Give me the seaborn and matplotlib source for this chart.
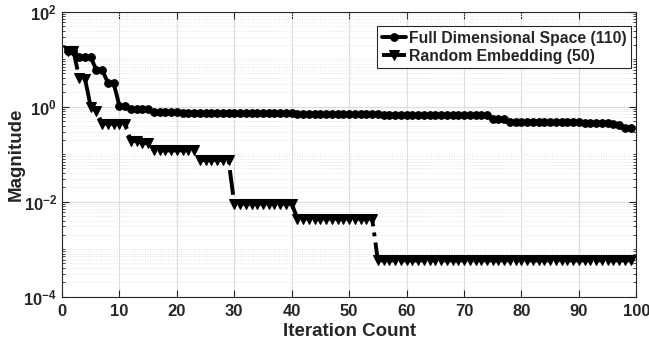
import numpy as np
import pandas as pd
import matplotlib
matplotlib.use("Agg")
import matplotlib.pyplot as plt
import seaborn as sns
from matplotlib.ticker import FixedLocator, NullFormatter

# iterations 1..99
iters = list(range(1, 100))

# Full Dimensional Space (110)
full_mag = [15, 15, 11, 11, 11, 5.9, 5.9, 3.2, 3.1, 1.05,
            1.02, 0.9, 0.9, 0.9, 0.9, 0.76, 0.76, 0.76, 0.76, 0.76,
            0.75, 0.75, 0.75, 0.75, 0.75, 0.74, 0.74, 0.74, 0.74, 0.74,
            0.73, 0.73, 0.73, 0.73, 0.73, 0.72, 0.72, 0.72, 0.72, 0.72,
            0.71, 0.71, 0.71, 0.71, 0.71, 0.70, 0.70, 0.70, 0.70, 0.70,
            0.69, 0.69, 0.69, 0.69, 0.69, 0.68, 0.68, 0.68, 0.68, 0.68,
            0.67, 0.67, 0.67, 0.67, 0.67, 0.67, 0.66, 0.66, 0.66, 0.66,
            0.66, 0.66, 0.66, 0.66, 0.55, 0.55, 0.55, 0.48, 0.48, 0.48,
            0.48, 0.48, 0.48, 0.48, 0.48, 0.47, 0.47, 0.47, 0.47, 0.47,
            0.46, 0.46, 0.46, 0.46, 0.46, 0.43, 0.42, 0.36, 0.36]

# Random Embedding (50)
rand_mag = [15, 15, 4.0, 3.9, 1.0, 0.8, 0.44, 0.44, 0.44, 0.44,
            0.44, 0.19, 0.19, 0.17, 0.17, 0.12, 0.12, 0.12, 0.12, 0.12,
            0.12, 0.12, 0.12, 0.075, 0.075, 0.075, 0.075, 0.075, 0.075, 0.009,
            0.009, 0.009, 0.009, 0.009, 0.009, 0.009, 0.009, 0.009, 0.009, 0.009,
            0.0044, 0.0044, 0.0044, 0.0044, 0.0044, 0.0044, 0.0044, 0.0044, 0.0044, 0.0044,
            0.0044, 0.0044, 0.0044, 0.0044, 0.00058, 0.00058, 0.00058, 0.00058, 0.00058, 0.00058,
            0.00058, 0.00058, 0.00058, 0.00058, 0.00058, 0.00058, 0.00058, 0.00058, 0.00058, 0.00058,
            0.00058, 0.00058, 0.00058, 0.00058, 0.00058, 0.00058, 0.00058, 0.00058, 0.00058, 0.00058,
            0.00058, 0.00058, 0.00058, 0.00058, 0.00058, 0.00058, 0.00058, 0.00058, 0.00058, 0.00058,
            0.00058, 0.00058, 0.00058, 0.00058, 0.00058, 0.00058, 0.00058, 0.00058, 0.00058]

xticks = [0, 10, 20, 30, 40, 50, 60, 70, 80, 90, 100]
yticks = [1e-4, 1e-2, 1e0, 1e2]

full = pd.DataFrame({"iter": iters, "mag": full_mag})
rand = pd.DataFrame({"iter": iters, "mag": rand_mag})

sns.set_style("ticks")
plt.rcParams['font.family'] = ['Liberation Sans', 'DejaVu Sans']
plt.rcParams['font.weight'] = 'bold'
plt.rcParams['mathtext.fontset'] = 'custom'
plt.rcParams['mathtext.rm'] = 'Liberation Sans:bold'
plt.rcParams['mathtext.it'] = 'Liberation Sans:bold'
plt.rcParams['mathtext.bf'] = 'Liberation Sans:bold'

fig = plt.figure(figsize=(6.49, 3.39), dpi=100)
ax = fig.add_axes([0.0955, 0.125, 0.885, 0.8405])

sns.lineplot(data=full, x="iter", y="mag", ax=ax, color="black", lw=2.8,
             marker="o", markersize=5.5, markeredgecolor="black",
             label="Full Dimensional Space (110)")
sns.lineplot(data=rand, x="iter", y="mag", ax=ax, color="black", lw=2.8,
             linestyle="-.", marker="v", markersize=6.5, markeredgecolor="black",
             label="Random Embedding (50)")

ax.set_yscale("log")
ax.set_xlim(0, 100)
ax.set_ylim(1e-4, 1e2)
ax.set_xticks(xticks)
ax.set_xticklabels([str(t) for t in xticks])
ax.yaxis.set_major_locator(FixedLocator(yticks))
ax.set_yticklabels([r"$10^{-4}$", r"$10^{-2}$", r"$10^{0}$", r"$10^{2}$"])
minor = [m * 10.0 ** e for e in range(-4, 2) for m in range(1, 10)]
minor = [v for v in minor if v not in yticks]
ax.yaxis.set_minor_locator(FixedLocator(minor))
ax.yaxis.set_minor_formatter(NullFormatter())

ax.grid(which="major", color="#dcdcdc", lw=0.8)
ax.grid(which="minor", axis="y", color="#e4e4e4", ls=":", lw=0.7)
ax.set_axisbelow(True)

ax.tick_params(which="both", direction="in", top=True, right=True,
               labelsize=12, colors="#262626")
ax.tick_params(axis="x", pad=5)
ax.tick_params(which="major", length=5)
ax.tick_params(which="minor", length=2.5)
for s in ax.spines.values():
    s.set_color("#262626")
    s.set_linewidth(0.8)

ax.set_xlabel("Iteration Count", fontsize=13.5, fontweight="bold", labelpad=3)
ax.set_ylabel("Magnitude", fontsize=13.5, fontweight="bold", labelpad=-1)

leg = ax.legend(loc="upper right", bbox_to_anchor=(0.991, 0.95), borderaxespad=0,
                fancybox=False, edgecolor="#262626", framealpha=1, fontsize=11.3,
                handlelength=1.5, handletextpad=0.2, borderpad=0.3, labelspacing=0.2)
leg.get_frame().set_linewidth(0.8)

fig.savefig("out.png", dpi=100)
